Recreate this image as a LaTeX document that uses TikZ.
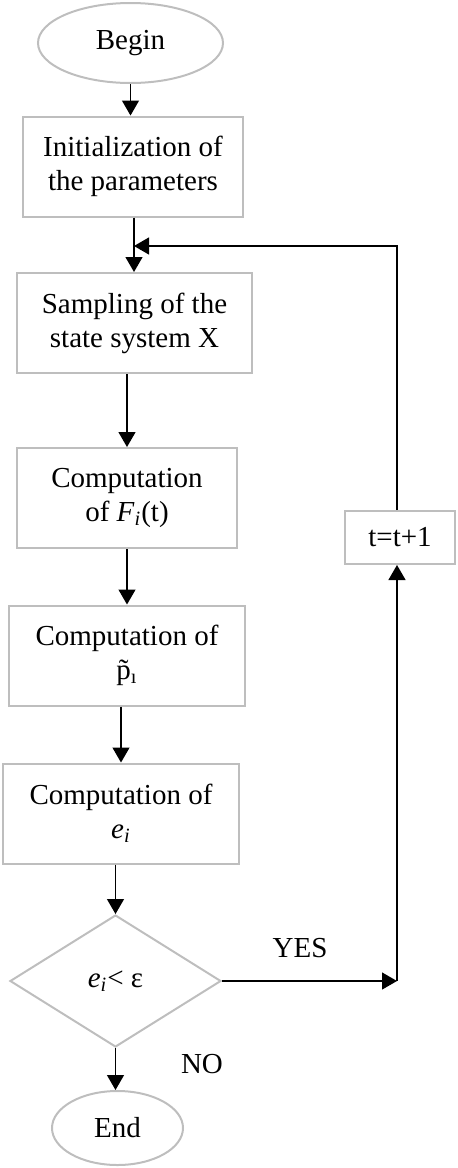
\documentclass[tikz,border=0pt]{standalone}
\usepackage{fontspec}
\setmainfont{Liberation Serif}
\usetikzlibrary{shapes.geometric,arrows.meta,positioning}
\definecolor{boxgray}{RGB}{190,190,190}
\newcommand{\ei}{\textit{e}\textsubscript{\textit{i}}}
\tikzset{
  >={Triangle[length=7.5pt,width=8.5pt]},
  flow/.style={->,line width=0.65pt},
}

\begin{document}
\begin{tikzpicture}[
  x=0.5pt,y=-0.5pt,
  font=\fontsize{14.5}{17}\selectfont,
  box/.style={draw=boxgray, line width=1pt, align=center, minimum height=50pt},
  term/.style={draw=boxgray, line width=1pt, ellipse},
  test/.style={draw=boxgray, line width=1pt, diamond, minimum width=105.5pt, minimum height=66pt, inner sep=0pt}
]
\useasboundingbox (0,0) rectangle (457,1168);

\node[term, minimum width=92.5pt, minimum height=40pt] (begin) at (130.5,43) {Begin};
\node[box, minimum width=110pt] (init) at (133,166.5) {Initialization of\\the parameters};
\node[box, minimum width=117.5pt] (samp) at (134.5,323) {Sampling of the\\state system X};
\node[box, minimum width=110pt] (comF) at (127,498) {Computation\\of \textit{F}\textsubscript{\textit{i}}(t)};
\node[box, minimum width=118pt] (comP) at (127,655.5) {Computation of\\\~{p}\textsubscript{ı}};
\node[box, minimum width=118pt] (comE) at (121,813.5) {Computation of\\\ei};
\node[test] (cond) at (115.5,981) {\ei< ε};
\node[term, minimum width=65.5pt, minimum height=37pt] (end) at (117.5,1128) {End};
\node[draw=boxgray, line width=1pt, minimum width=55pt, minimum height=26.5pt] (incr) at (400,537.5) {t=t+1};

\coordinate (merge) at (134,246);
\coordinate (turn) at (397,246);
\coordinate (yes) at (397,981);

\node at (300,948) {YES};
\node at (202,1064) {NO};

\draw[flow] (begin) -- (init.north -| begin);
\draw[flow] (init.south -| merge) -- (samp.north -| merge);
\draw[flow] (samp.south -| comF) -- (comF.north);
\draw[flow] (comF) -- (comP);
\draw[flow] (comP.south -| comE) -- (comE.north);
\draw[flow] (comE.south -| cond) -- (cond.north);
\draw[flow] (cond.east) -- (yes);
\draw[flow] (yes) -- (incr.south -| yes);
\draw[flow] (incr.north -| turn) -- (turn) -- (merge);
\draw[flow] (cond.south) -- (end.north -| cond);

\end{tikzpicture}
\end{document}
